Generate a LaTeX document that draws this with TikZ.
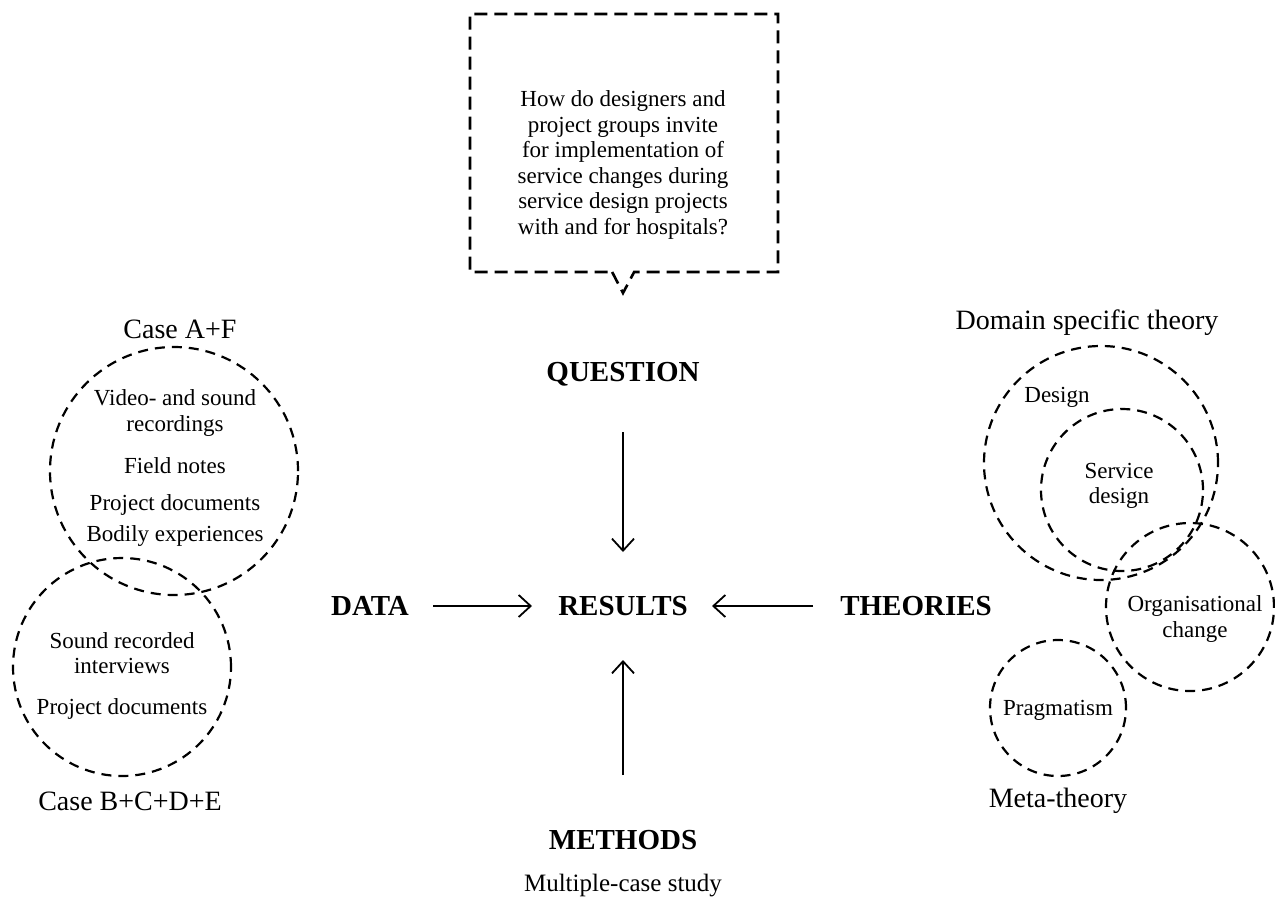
\documentclass[tikz,border=0pt]{standalone}
\usepackage{fontspec}
\setmainfont{Liberation Serif}
\usetikzlibrary{positioning,shapes.callouts,arrows.meta}

\begin{document}
\begin{tikzpicture}[x=0.5pt,y=-0.5pt,>={Straight Barb[length=6pt,width=11pt]},line width=0.9pt]
    \tikzset{head/.style={font=\fontsize{14.5}{17}\selectfont\bfseries,inner sep=0pt,text height=9.6pt,text depth=0pt}}
    \tikzset{body/.style={font=\fontsize{11.5}{12.8}\selectfont,align=center,inner sep=0pt}}
    \tikzset{group/.style={font=\fontsize{14}{16}\selectfont,inner sep=0pt}}
    \tikzset{ring/.style={draw,circle,inner sep=0pt,line width=1.1pt,dash pattern=on 5pt off 3.5pt}}
    \useasboundingbox (0,0) rectangle (1275,907);
    % question box
    \node[rectangle callout,draw,line width=1.3pt,dash pattern=on 6.5pt off 3.5pt,
      minimum width=154pt,minimum height=129pt,callout pointer width=11pt,
      callout absolute pointer={(623,293)}] (qbox) at (624,143) {};
    \node[body] (qtext) at (623,165) {How do designers and\\project groups invite\\for implementation of\\service changes during\\service design projects\\with and for hospitals?};
    % main labels
    \node[head] (question) at (623,372) {QUESTION};
    \node[head] (results) at (623,606) {RESULTS};
    \node[head] (data) at (370,606) {DATA};
    \node[head] (theories) at (916,606) {THEORIES};
    \node[head] (methods) at (623,840) {METHODS};
    \node[group,font=\fontsize{12.5}{15}\selectfont,on grid] (study) [below=23pt of methods] {Multiple-case study};
    \path[->]
      (question.center) edge[shorten <=30pt,shorten >=27pt] (results.center)
      (data.center) edge[shorten <=31.5pt,shorten >=45.5pt] (results.center)
      (theories.center) edge[shorten <=51.5pt,shorten >=44.5pt] (results.center)
      (methods.center) edge[shorten <=32.5pt,shorten >=27pt] (results.center);
    % data
    \node[ring,minimum size=124pt] (caseaf) at (174,471) {};
    \node[ring,minimum size=109pt] (casebe) at (122,667) {};
    \node[group] (caseaflabel) at (180,329) {Case A+F};
    \node[group] (casebelabel) at (130,801) {Case B+C+D+E};
    \node[body] (video) at (175,413) {Video- and sound\\recordings};
    \node[body] (notes) at (175,466) {Field notes};
    \node[body] (docsa) at (175,505) {Project documents};
    \node[body] (bodily) at (175,536) {Bodily experiences};
    \node[body] (interviews) at (122,653) {Sound recorded\\interviews};
    \node[body] (docsb) at (122,709) {Project documents};
    % theories
    \node[ring,minimum size=117pt] (design) at (1101,463) {};
    \node[ring,minimum size=81pt] (service) at (1122,490) {};
    \node[ring,minimum size=84pt] (orgchange) at (1190,607) {};
    \node[ring,minimum size=68pt] (pragmatism) at (1058,708) {};
    \node[group] (domain) at (1087,323) {Domain specific theory};
    \node[group] (meta) at (1058,801) {Meta-theory};
    \node[body] (designlabel) at (1057,397) {Design};
    \node[body] (servicelabel) at (1119,486) {Service\\design};
    \node[body] (orglabel) at (1195,619) {Organisational\\change};
    \node[body] (praglabel) at (1058,710) {Pragmatism};
\end{tikzpicture}
\end{document}
